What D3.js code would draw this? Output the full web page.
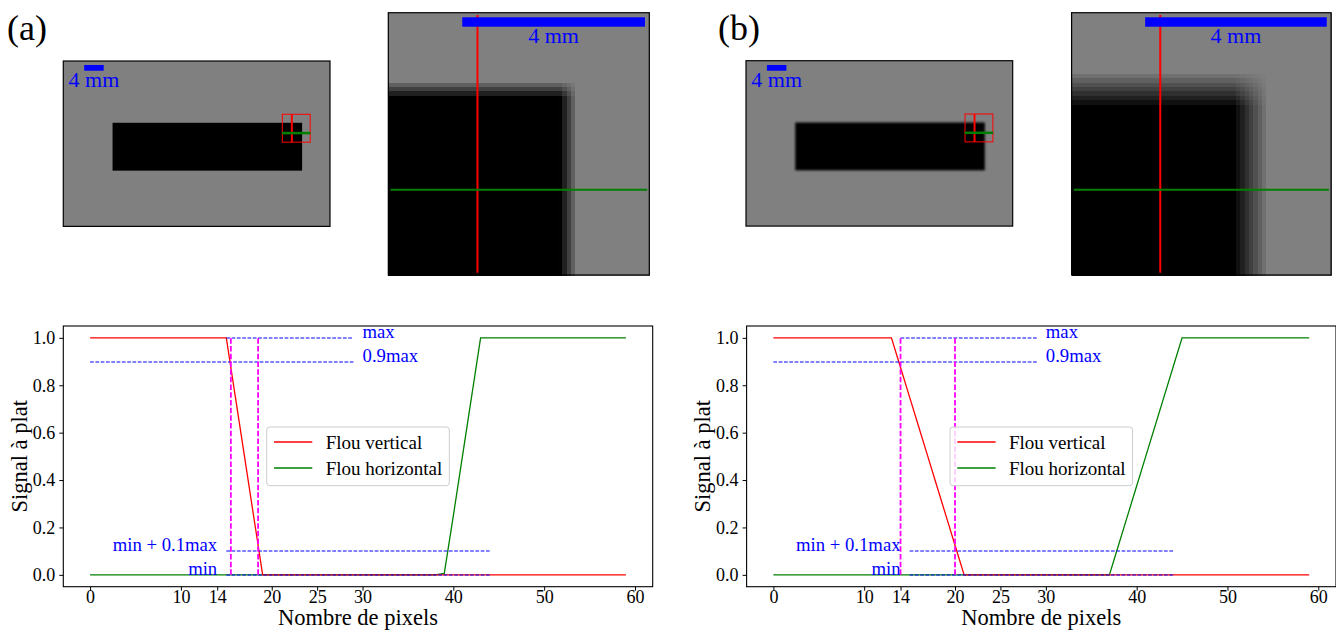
<!DOCTYPE html>
<html><head><meta charset="utf-8">
<script src="https://cdn.jsdelivr.net/npm/d3@7/dist/d3.min.js"></script>
<style>
body{margin:0;background:#fff}
svg{display:block}
text{font-family:"Liberation Serif","Times New Roman",serif}
</style></head>
<body><svg id="c" width="1336" height="633"></svg>
<script>
// ---------------- DATA ----------------
const pixelIndex = d3.range(60);
const xTicks = [0, 10, 14, 20, 25, 30, 40, 50, 60];
const yTicks = [0, 0.2, 0.4, 0.6, 0.8, 1.0];
const seriesNames = ["Flou vertical", "Flou horizontal"];

// (a) profiles
const redA = [1,1,1,1,1,1,1,1,1,1,1,1,1,1,1,1,0.75,0.5,0.25,
  0,0,0,0,0,0,0,0,0,0, 0,0,0,0,0,0,0,0,0,0, 0,0,0,0,0,0,0,0,0,0, 0,0,0,0,0,0,0,0,0,0, 0];
const greenA = [0,0,0,0,0,0,0,0,0,0, 0,0,0,0,0,0,0,0,0,0, 0,0,0,0,0,0,0,0,0,0, 0,0,0,0,0,0,0,0,0,
  0.006,0.25,0.5,0.75,
  1,1,1,1,1,1,1,1,1,1,1,1,1,1,1,1,1];
// (b) profiles
const redB = [1,1,1,1,1,1,1,1,1,1,1,1,1,1,
  0.875,0.75,0.625,0.5,0.375,0.25,0.125,
  0,0,0,0,0,0,0,0,0,0, 0,0,0,0,0,0,0,0,0,0, 0,0,0,0,0,0,0,0,0,0, 0,0,0,0,0,0,0,0,0];
const greenB = [0,0,0,0,0,0,0,0,0,0, 0,0,0,0,0,0,0,0,0,0, 0,0,0,0,0,0,0,0,0,0, 0,0,0,0,0,0,0,0,
  0.125,0.25,0.375,0.5,0.625,0.75,0.875,
  1,1,1,1,1,1,1,1,1,1,1,1,1,1,1];

// threshold lines
const levelValues = [1.0, 0.9, 0.1, 0.0];
const levelNames = ["max", "0.9max", "min + 0.1max", "min"];
const levelStartA = [15, 0, 15, 15];
const levelStartB = [14, 0, 15, 15];
const levelEnd = [29, 29, 44, 44];
const labelXHigh = 30;   // x of "max" / "0.9max"
const labelXLow = 14;    // right end of "min..." labels
const magentaA = [15.5, 18.5];
const magentaB = [14, 20];

// image geometry (image pixel units)
const smallImageSize = [574, 356];
const blackRect = [106, 133, 514, 236];
const cropOrigin = [471.4, 114.7];
const cropSize = 60;
const profileCol = 20, profileRow = 40;
const scaleBarPx = 42;  // 4 mm
const scaleBarLabel = "4 mm";
const panelLabels = ["(a)", "(b)"];

// ---------------- DRAWING ----------------
const svg = d3.select("#c");
const defs = svg.append("defs");

const panels = [
  {label: panelLabels[0], red: redA, green: greenA, mag: magentaA, lstart: levelStartA, blur: 0.7, dx: 0, labelX: 7, zoomW: 261},
  {label: panelLabels[1], red: redB, green: greenB, mag: magentaB, lstart: levelStartB, blur: 1.1, dx: 683.3, labelX: 718, zoomW: 259.5}
];

panels.forEach((p, pi) => {
  const g = svg.append("g");

  // panel label
  g.append("text").attr("x", p.labelX).attr("y", 40).attr("font-size", 36).attr("fill", "#000").text(p.label);

  // ---- small overview image ----
  const s0x = 63.3 + p.dx - (pi ? 0.6 : 0), s0y = 61 - (pi ? 0.3 : 0);
  const sc = 0.4646;
  const sx = d3.scaleLinear().domain([0, smallImageSize[0]]).range([s0x, s0x + smallImageSize[0] * sc]);
  const sy = d3.scaleLinear().domain([0, smallImageSize[1]]).range([s0y, s0y + smallImageSize[1] * sc]);
  const clipId = "clipS" + pi;
  defs.append("clipPath").attr("id", clipId).append("rect")
    .attr("x", sx(0)).attr("y", sy(0)).attr("width", sx(smallImageSize[0]) - sx(0)).attr("height", sy(smallImageSize[1]) - sy(0));
  const filt = defs.append("filter").attr("id", "blur" + pi).attr("x", "-10%").attr("y", "-10%").attr("width", "120%").attr("height", "120%");
  filt.append("feGaussianBlur").attr("stdDeviation", p.blur);
  const sg = g.append("g").attr("clip-path", `url(#${clipId})`);
  sg.append("rect").attr("x", sx(0)).attr("y", sy(0)).attr("width", sx(smallImageSize[0]) - sx(0)).attr("height", sy(smallImageSize[1]) - sy(0)).attr("fill", "#808080");
  sg.append("rect").attr("x", sx(blackRect[0])).attr("y", sy(blackRect[1]))
    .attr("width", sx(blackRect[2]) - sx(blackRect[0])).attr("height", sy(blackRect[3]) - sy(blackRect[1]))
    .attr("fill", "#000").attr("filter", `url(#blur${pi})`);
  // crop square and profile lines
  g.append("rect").attr("x", sx(cropOrigin[0])).attr("y", sy(cropOrigin[1]))
    .attr("width", sx(cropOrigin[0] + cropSize) - sx(cropOrigin[0])).attr("height", sy(cropOrigin[1] + cropSize) - sy(cropOrigin[1]))
    .attr("fill", "none").attr("stroke", "#ff0000").attr("stroke-width", 1);
  g.append("line").attr("x1", sx(cropOrigin[0] + profileCol + 0.5)).attr("x2", sx(cropOrigin[0] + profileCol + 0.5))
    .attr("y1", sy(cropOrigin[1])).attr("y2", sy(cropOrigin[1] + cropSize)).attr("stroke", "#ff0000").attr("stroke-width", 2);
  g.append("line").attr("x1", sx(cropOrigin[0] - 0.5)).attr("x2", sx(cropOrigin[0] + cropSize + 0.5))
    .attr("y1", sy(cropOrigin[1] + profileRow + 0.5)).attr("y2", sy(cropOrigin[1] + profileRow + 0.5)).attr("stroke", "#008000").attr("stroke-width", 2.5);
  // scale bar
  g.append("rect").attr("x", sx(45)).attr("y", 65).attr("width", sx(45 + scaleBarPx) - sx(45)).attr("height", 5.7).attr("fill", "#0000ff");
  g.append("text").attr("x", (sx(45) + sx(45 + scaleBarPx)) / 2).attr("y", 70.7 + 16.6).attr("text-anchor", "middle")
    .attr("font-size", 22).attr("fill", "#0000ff").text(scaleBarLabel);
  g.append("rect").attr("x", sx(0)).attr("y", sy(0)).attr("width", sx(smallImageSize[0]) - sx(0)).attr("height", sy(smallImageSize[1]) - sy(0))
    .attr("fill", "none").attr("stroke", "#000").attr("stroke-width", 1.2);

  // ---- zoomed crop image (cells built from the two profiles) ----
  const z0x = 388.3 + p.dx, z0y = 12.7, zW = p.zoomW;
  const zx = d3.scaleLinear().domain([0, cropSize]).range([z0x, z0x + zW]);
  const zy = d3.scaleLinear().domain([0, cropSize]).range([z0y, z0y + 262.3]);
  const cells = [];
  pixelIndex.forEach(r => pixelIndex.forEach(c => {
    const v = 1 - (1 - p.red[r]) * (1 - p.green[c]);
    cells.push({r, c, v});
  }));
  g.append("g").attr("shape-rendering", "crispEdges").selectAll("rect").data(cells).join("rect")
    .attr("x", d => zx(d.c)).attr("y", d => zy(d.r))
    .attr("width", d => zx(d.c + 1) - zx(d.c) + 0.5).attr("height", d => zy(d.r + 1) - zy(d.r) + 0.5)
    .attr("fill", d => { const k = Math.round(128 * d.v); return `rgb(${k},${k},${k})`; });
  g.append("line").attr("x1", zx(profileCol + 0.5)).attr("x2", zx(profileCol + 0.5)).attr("y1", zy(0.5)).attr("y2", zy(59.5))
    .attr("stroke", "#ff0000").attr("stroke-width", 2);
  g.append("line").attr("x1", zx(0.5)).attr("x2", zx(59.5)).attr("y1", zy(profileRow + 0.5)).attr("y2", zy(profileRow + 0.5))
    .attr("stroke", "#008000").attr("stroke-width", 2);
  g.append("rect").attr("x", zx(17)).attr("y", zy(1.05)).attr("width", zx(17 + scaleBarPx) - zx(17)).attr("height", 9.4).attr("fill", "#0000ff");
  g.append("text").attr("x", (zx(17) + zx(17 + scaleBarPx)) / 2).attr("y", zy(1.05) + 9.4 + 16.6).attr("text-anchor", "middle")
    .attr("font-size", 22).attr("fill", "#0000ff").text(scaleBarLabel);
  g.append("rect").attr("x", zx(0)).attr("y", zy(0)).attr("width", zx(60) - zx(0)).attr("height", zy(60) - zy(0))
    .attr("fill", "none").attr("stroke", "#000").attr("stroke-width", 1.2);

  // ---- profile plot ----
  const L = 63.3 + p.dx, R = L + 589.4, T = 326, B = 586.7;
  const x = d3.scaleLinear().domain([-2.95, 61.95]).range([L, R]);
  const y = d3.scaleLinear().domain([-0.05, 1.05]).range([B, T]);
  const ax = g.append("g");
  const xa = ax.append("g").attr("transform", `translate(0,${B})`)
    .call(d3.axisBottom(x).tickValues(xTicks).tickSize(4).tickPadding(0).tickFormat(d3.format("d")));
  const ya = ax.append("g").attr("transform", `translate(${L},0)`)
    .call(d3.axisLeft(y).tickValues(yTicks).tickSize(4).tickPadding(4).tickFormat(d3.format(".1f")));
  [xa, ya].forEach(a => {
    a.select(".domain").remove();
    a.selectAll("text").attr("font-size", 18).attr("fill", "#000");
    a.selectAll("line").attr("stroke", "#000").attr("stroke-width", 1);
  });

  const line = d3.line().x((d, i) => x(pixelIndex[i])).y(d => y(d));
  g.append("path").attr("d", line(p.green)).attr("fill", "none").attr("stroke", "#008000").attr("stroke-width", 1.3);
  g.append("path").attr("d", line(p.red)).attr("fill", "none").attr("stroke", "#ff0000").attr("stroke-width", 1.3);

  levelValues.forEach((lv, i) => {
    const yy = Math.round(y(lv));
    g.append("line").attr("x1", x(p.lstart[i])).attr("x2", x(levelEnd[i])).attr("y1", yy).attr("y2", yy)
      .attr("stroke", "#0000ff").attr("stroke-width", 1.1).attr("stroke-dasharray", "3.7,1.6");
    const hi = i < 2;
    g.append("text").attr("x", x(hi ? labelXHigh : labelXLow)).attr("y", y(lv))
      .attr("text-anchor", hi ? "start" : "end").attr("font-size", 18.7).attr("fill", "#0000ff").text(levelNames[i]);
  });
  p.mag.forEach(m => {
    g.append("line").attr("x1", x(m)).attr("x2", x(m)).attr("y1", y(0)).attr("y2", y(1))
      .attr("stroke", "#ff00ff").attr("stroke-width", 1.8).attr("stroke-dasharray", "5.5,2.2");
  });

  // legend (centered)
  const lw = 182.6, lh = 58.7, lx = (L + R) / 2 - lw / 2, ly = (T + B) / 2 - lh / 2;
  const lg = g.append("g").attr("transform", `translate(${lx},${ly})`);
  lg.append("rect").attr("width", lw).attr("height", lh).attr("rx", 3).attr("fill", "#fff").attr("fill-opacity", 0.8)
    .attr("stroke", "#cccccc").attr("stroke-width", 1);
  [["#ff0000", seriesNames[0]], ["#008000", seriesNames[1]]].forEach((e, i) => {
    const yy = 15 + i * 26;
    lg.append("line").attr("x1", 7.3).attr("x2", 45.6).attr("y1", yy).attr("y2", yy).attr("stroke", e[0]).attr("stroke-width", 1.3);
    lg.append("text").attr("x", 59).attr("y", yy).attr("dy", "0.35em").attr("font-size", 19).attr("fill", "#000").text(e[1]);
  });

  // frame
  g.append("rect").attr("x", L).attr("y", T).attr("width", R - L).attr("height", B - T)
    .attr("fill", "none").attr("stroke", "#000").attr("stroke-width", 1.1);

  // axis labels
  g.append("text").attr("x", (L + R) / 2).attr("y", 625).attr("text-anchor", "middle").attr("font-size", 22.5).attr("fill", "#000").text("Nombre de pixels");
  g.append("text").attr("transform", `translate(${27 + p.dx},${(T + B) / 2}) rotate(-90)`).attr("text-anchor", "middle")
    .attr("font-size", 22.5).attr("fill", "#000").text("Signal à plat");
});
</script>
</body></html>
